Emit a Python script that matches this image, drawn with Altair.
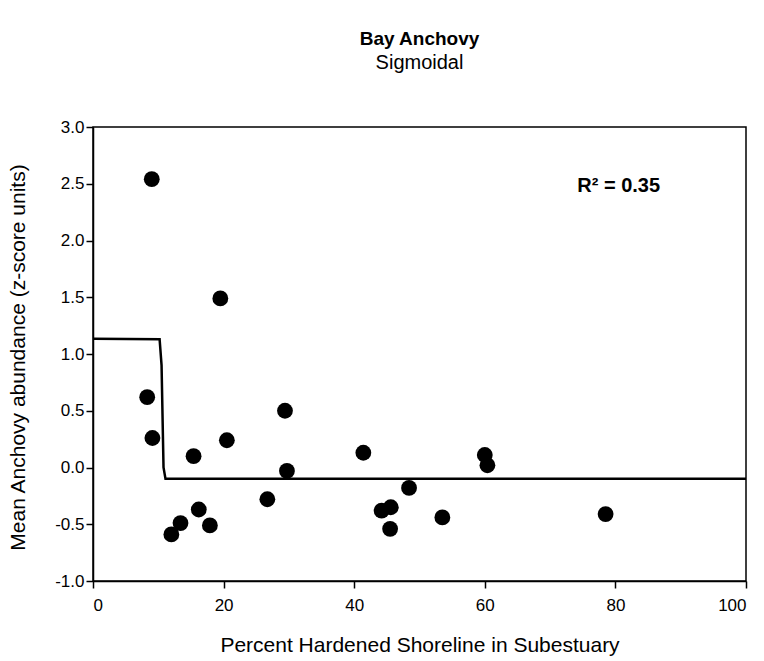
import altair as alt
import pandas as pd

# Observed points (percent hardened shoreline, mean anchovy z-score)
pct_hardened = [9.0, 19.5, 8.3, 9.1, 15.4, 20.5, 16.2, 13.4, 12.0, 17.9,
                29.4, 29.7, 26.7, 41.4, 48.4, 45.6, 44.2, 45.5, 53.5,
                60.0, 60.4, 78.5]
abundance = [2.54, 1.49, 0.62, 0.26, 0.10, 0.24, -0.37, -0.49, -0.59, -0.51,
             0.50, -0.03, -0.28, 0.13, -0.18, -0.35, -0.38, -0.54, -0.44,
             0.11, 0.02, -0.41]

# Fitted sigmoidal curve
fit_x = [0, 10.2, 10.5, 10.8, 11.1, 100]
fit_y = [1.135, 1.13, 0.9, 0.0, -0.1, -0.1]

r2_label = ["R² = 0.35"]
r2_x = [80.5]
r2_y = [2.48]

FONT = "Liberation Sans"

pts = pd.DataFrame({"x": pct_hardened, "y": abundance})
fit = pd.DataFrame({"x": fit_x, "y": fit_y})
lab = pd.DataFrame({"x": r2_x, "y": r2_y, "t": r2_label})

xscale = alt.Scale(domain=[0, 100], nice=False, zero=False)
yscale = alt.Scale(domain=[-1.0, 3.0], nice=False, zero=False)

xaxis = alt.Axis(values=[0, 20, 40, 60, 80, 100], format="d", grid=False,
                 tickSize=7, tickColor="black", domainColor="black",
                 domainWidth=1.5, tickWidth=1.5, labelFont=FONT, labelFontSize=17,
                 labelColor="black", labelPadding=9,
                 title="Percent Hardened Shoreline in Subestuary",
                 titleFont=FONT, titleFontSize=21, titleFontWeight="normal",
                 titleColor="black", titlePadding=21)
yaxis = alt.Axis(values=[-1.0, -0.5, 0.0, 0.5, 1.0, 1.5, 2.0, 2.5, 3.0],
                 format=".1f", labelExpr="replace(datum.label, '\u2212', '-')",
                 grid=False, tickSize=7, tickColor="black",
                 domainColor="black", domainWidth=1.5, tickWidth=1.5,
                 labelFont=FONT, labelFontSize=17, labelColor="black",
                 labelPadding=2,
                 title="Mean Anchovy abundance (z-score units)",
                 titleFont=FONT, titleFontSize=21, titleFontWeight="normal",
                 titleColor="black", titleX=-75, titleY=230,
                 titleBaseline="middle", titleAlign="center")

points = alt.Chart(pts).mark_circle(size=250, color="black", opacity=1).encode(
    x=alt.X("x:Q", scale=xscale, axis=xaxis),
    y=alt.Y("y:Q", scale=yscale, axis=yaxis),
)

line = alt.Chart(fit).mark_line(color="black", strokeWidth=2.5).encode(
    x=alt.X("x:Q", scale=xscale),
    y=alt.Y("y:Q", scale=yscale),
    order=alt.Order("x:Q"),
)

text = alt.Chart(lab).mark_text(font=FONT, fontSize=20, fontWeight="bold",
                                color="black").encode(
    x=alt.X("x:Q", scale=xscale),
    y=alt.Y("y:Q", scale=yscale),
    text="t:N",
)

chart = alt.layer(line, points, text).properties(
    width=653,
    height=454,
    autosize=alt.AutoSizeParams(type="none"),
    padding={"left": 93, "top": 127, "right": 18, "bottom": 80},
    view=alt.ViewBackground(stroke="#000000", strokeWidth=1.5, strokeOpacity=1),
    title=alt.TitleParams(
        text="Bay Anchovy",
        subtitle="Sigmoidal",
        font=FONT, fontSize=19, fontWeight="bold", color="black",
        subtitleFont=FONT, subtitleFontSize=20, subtitleColor="black",
        anchor="middle", offset=45, subtitlePadding=4,
    ),
).configure_view(stroke="#000000", strokeWidth=1.5).configure(background="white")

chart.save("out.html", embed_options={"renderer": "svg", "actions": False})
